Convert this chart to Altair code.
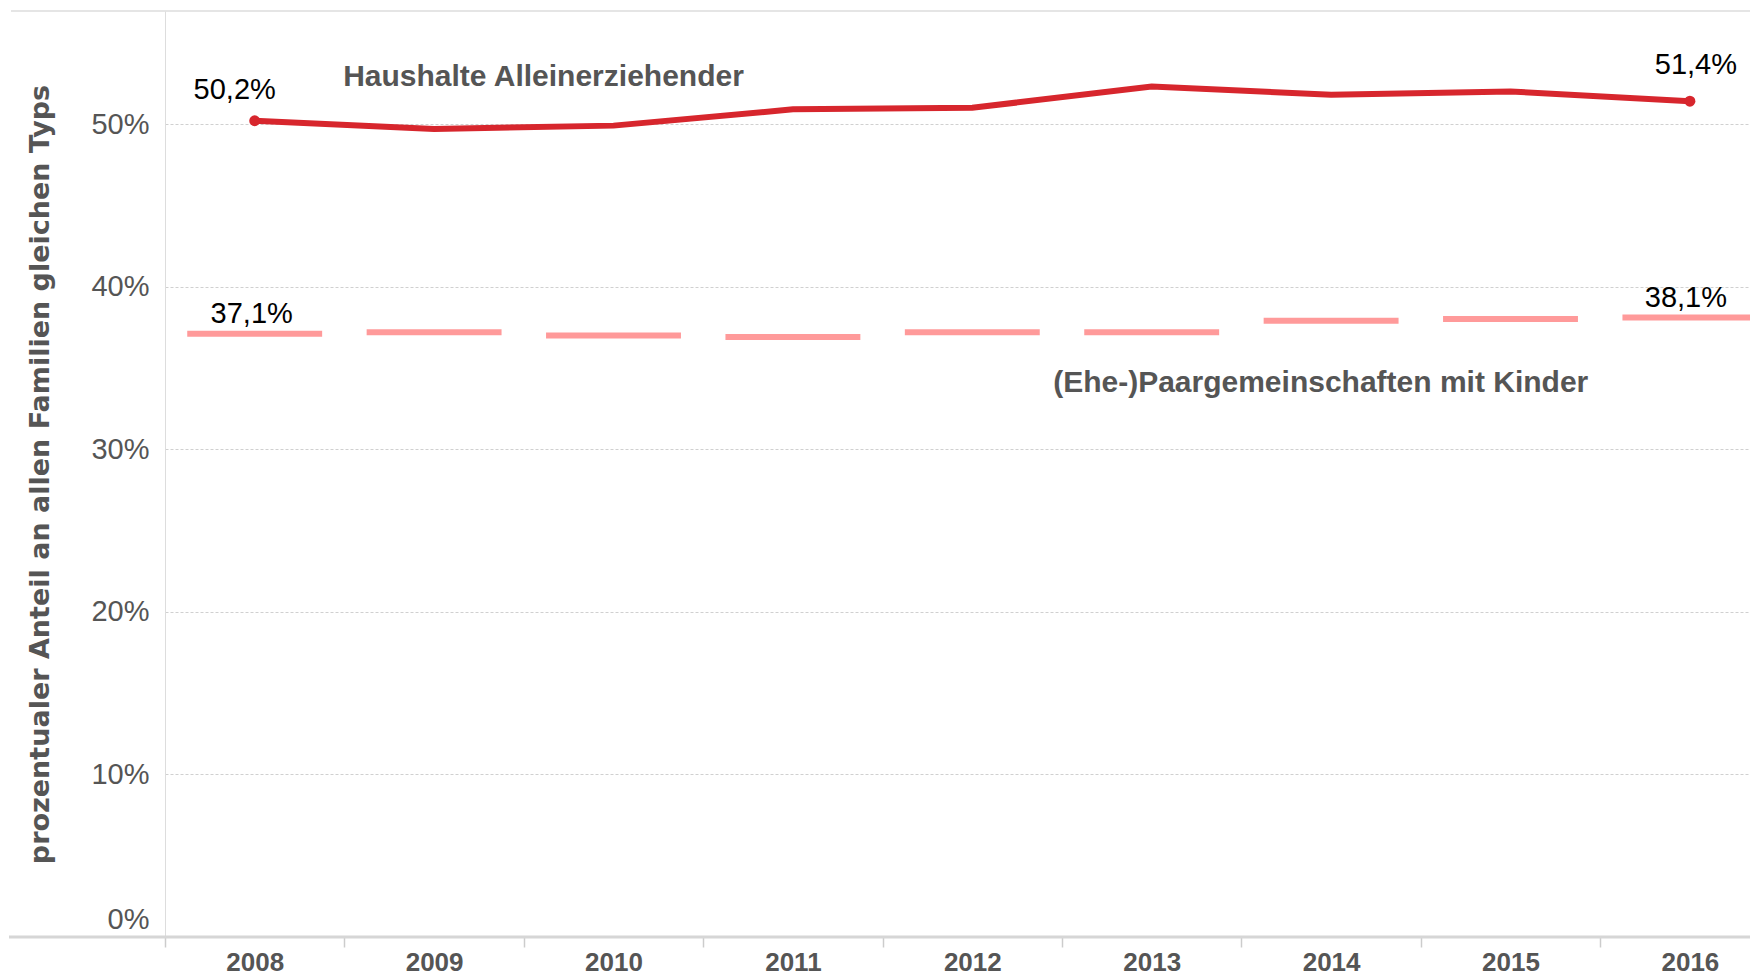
import altair as alt
import pandas as pd

# ---- data ----
years = [2008, 2009, 2010, 2011, 2012, 2013, 2014, 2015, 2016]
alleinerziehende = [50.2, 49.7, 49.9, 50.9, 51.0, 52.3, 51.8, 52.0, 51.4]
paargemeinschaften = [37.1, 37.2, 37.0, 36.9, 37.2, 37.2, 37.9, 38.0, 38.1]
y_ticks = [0, 10, 20, 30, 40, 50]
name_allein = "Haushalte Alleinerziehender"
name_paar = "(Ehe-)Paargemeinschaften mit Kinder"
y_title = "prozentualer Anteil an allen Familien gleichen Typs"

df = pd.DataFrame({"year": years, "allein": alleinerziehende, "paar": paargemeinschaften})

W, H = 1585, 926
BAND = 179.4
FONT = "Liberation Sans, Arial, sans-serif"
RED = "#d7262d"
PINK = "#ff9a9a"
GREY = "#555555"

x_scale = alt.Scale(domain=[2007.5, 2007.5 + W / BAND], nice=False, zero=False)
y_scale = alt.Scale(domain=[0, H / 16.26], nice=False)

x_axis = alt.Axis(
    values=[y - 0.5 for y in years],
    labelExpr="format(datum.value + 0.5, 'd')",
    labelOffset=BAND / 2,
    labelFlush=False,
    labelOverlap=False,
    labelBound=False,
    labelFont=FONT,
    labelFontSize=26,
    labelFontWeight="bold",
    labelColor=GREY,
    labelPadding=2,
    ticks=True,
    tickSize=10,
    tickColor="#cccccc",
    tickWidth=1.5,
    domain=False,
    grid=False,
    title=None,
)

y_axis = alt.Axis(
    values=y_ticks,
    labelExpr="datum.value + '%'",
    labelFont=FONT,
    labelFontSize=29,
    labelColor=GREY,
    labelPadding=16,
    labelFlush=True,
    labelFlushOffset=-3,
    ticks=False,
    tickSize=0,
    domain=True,
    domainColor="#dddddd",
    domainWidth=1,
    grid=True,
    gridColor="#d0d0d0",
    gridDash=[3, 2],
    gridWidth=1,
    title=y_title,
    titleFont="DejaVu Sans, sans-serif",
    titleFontSize=27,
    titleFontWeight="bold",
    titleColor=GREY,
    titleX=-125,
    titleY=H / 2,
    titleAngle=270,
    titleAlign="center",
    titleBaseline="middle",
)

base = alt.Chart(df)

line = base.mark_line(color=RED, strokeWidth=6).encode(
    x=alt.X("year:Q", scale=x_scale, axis=x_axis),
    y=alt.Y("allein:Q", scale=y_scale, axis=y_axis),
)

ends = base.transform_filter("datum.year == 2008 || datum.year == 2016").mark_circle(
    color=RED, size=120, opacity=1
).encode(x="year:Q", y="allein:Q")

dashes = base.transform_calculate(
    x0="datum.year - 0.376", x1="datum.year + 0.376"
).mark_rule(color=PINK, strokeWidth=6, strokeCap="butt").encode(
    x="x0:Q", x2="x1:Q", y="paar:Q"
)

fmt = "replace(format(datum.v, '.1f'), '.', ',') + '%'"


def value_label(field, year, dx, dy):
    return (
        base.transform_filter(f"datum.year == {year}")
        .transform_calculate(v=f"datum.{field}")
        .transform_calculate(label=fmt)
        .mark_text(font=FONT, fontSize=29, color="#000000", align="center",
                   baseline="middle", dx=dx, dy=dy)
        .encode(x="year:Q", y=f"{field}:Q", text="label:N")
    )


lab1 = value_label("allein", 2008, -20, -31)
lab2 = value_label("allein", 2016, 6, -36)
lab3 = value_label("paar", 2008, -3, -20)
lab4 = value_label("paar", 2016, -4, -19)

name1 = (
    base.transform_filter("datum.year == 2010")
    .mark_text(font=FONT, fontSize=30, fontWeight="bold", color=GREY,
               align="center", baseline="middle", dx=-70, dy=-49)
    .encode(x="year:Q", y="allein:Q", text=alt.value(name_allein))
)
name2 = (
    base.transform_filter("datum.year == 2013")
    .mark_text(font=FONT, fontSize=30, fontWeight="bold", color=GREY,
               align="center", baseline="middle", dx=169, dy=51)
    .encode(x="year:Q", y="paar:Q", text=alt.value(name_paar))
)

one = alt.Chart(pd.DataFrame({"z": [0]}))
top_line = one.mark_rule(color="#dddddd", strokeWidth=1.5).encode(
    x=alt.value(-154), x2=alt.value(W), y=alt.value(0)
)
bottom_line = one.mark_rule(color="#d6d6d6", strokeWidth=3).encode(
    x=alt.value(-156), x2=alt.value(W), y=alt.value(H)
)

chart = (
    alt.layer(line, dashes, ends, lab1, lab2, lab3, lab4, name1, name2, top_line, bottom_line)
    .properties(
        width=W,
        height=H,
        autosize=alt.AutoSizeParams(type="none"),
        padding={"left": 157, "top": 3, "right": 0, "bottom": 40},
        background="white",
    )
    .configure_view(stroke=None)
)

chart.save("out.html", embed_options={"renderer": "svg", "actions": False})
